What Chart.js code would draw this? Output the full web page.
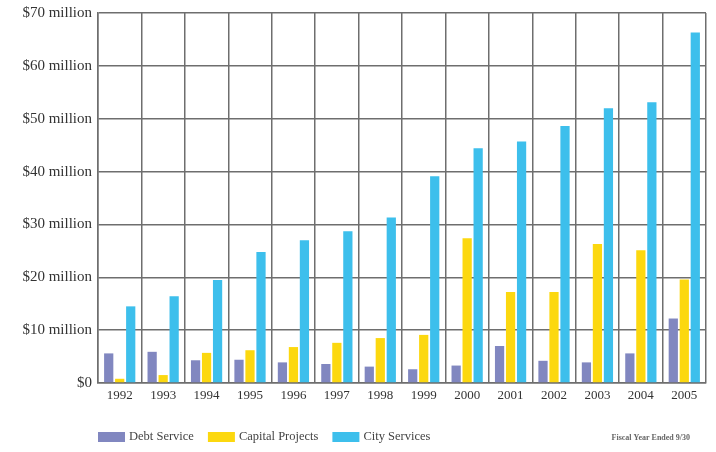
<!DOCTYPE html>
<html>
<head>
<meta charset="utf-8">
<script src="https://cdn.jsdelivr.net/npm/chart.js@4"></script>
<style>
  html, body { margin: 0; padding: 0; background: #fff; }
  #wrap { width: 716px; height: 452px; }
</style>
</head>
<body>
<div id="wrap"><canvas id="budgetchart"></canvas></div>
<script>
// fiscal years and spending, in millions of dollars
const years = ["1992", "1993", "1994", "1995", "1996", "1997", "1998",
  "1999", "2000", "2001", "2002", "2003", "2004", "2005"];
const debtService = [5.6, 5.9, 4.3, 4.4, 3.9, 3.6, 3.1, 2.6, 3.3, 7.0, 4.2, 3.9, 5.6, 12.2];
const capitalProjects = [0.8, 1.5, 5.7, 6.2, 6.8, 7.6, 8.5, 9.1, 27.4, 17.2, 17.2, 26.3, 25.1, 19.6];
const cityServices = [14.5, 16.4, 19.5, 24.8, 27.0, 28.7, 31.3, 39.1, 44.4, 45.7, 48.6, 52.0, 53.1, 66.3];
const yTicks = [0, 10, 20, 30, 40, 50, 60, 70];
const footNote = "Fiscal Year Ended 9/30";

const serif = "'Liberation Serif', 'DejaVu Serif', serif";

// legend + note drawn by hand so it can sit under the plot's left edge
const bottomLegend = {
  id: "bottomLegend",
  afterDraw(chart) {
    const ctx = chart.ctx;
    const area = chart.chartArea;
    let x = area.left;
    const y = 437;
    ctx.save();
    ctx.font = "12.5px " + serif;
    ctx.textBaseline = "middle";
    chart.data.datasets.forEach((ds) => {
      ctx.fillStyle = ds.backgroundColor;
      ctx.fillRect(x, y - 5, 27, 10);
      x += 31;
      ctx.fillStyle = "#444";
      ctx.textAlign = "left";
      ctx.fillText(ds.label, x, y);
      x += ctx.measureText(ds.label).width + 14;
    });
    ctx.font = "bold 8px " + serif;
    ctx.fillStyle = "#666";
    ctx.textAlign = "right";
    ctx.fillText(footNote, area.right - 16, y + 1);
    ctx.restore();
  },
};

const data = {
  labels: years,
  datasets: [
    { label: "Debt Service", data: debtService, backgroundColor: "#8187c0" },
    { label: "Capital Projects", data: capitalProjects, backgroundColor: "#fcd80f" },
    { label: "City Services", data: cityServices, backgroundColor: "#3dbfec" },
  ],
};

const config = {
  type: "bar",
  data: data,
  options: {
    responsive: true,
    maintainAspectRatio: false,
    animation: false,
    layout: { padding: { top: 13, right: 10, left: 0, bottom: 0 } },
    datasets: {
      bar: { categoryPercentage: 0.76, barPercentage: 0.84 },
    },
    plugins: {
      legend: { display: false },
      tooltip: { enabled: false },
    },
    scales: {
      x: {
        grid: { color: "#6e6e6e", lineWidth: 1.5, drawTicks: false, offset: true },
        border: { color: "#6e6e6e", width: 1.5 },
        ticks: { color: "#333", font: { family: serif, size: 13 }, padding: 5, maxRotation: 0 },
        afterFit(scale) { scale.height = 69; },
      },
      y: {
        min: 0,
        max: 70,
        afterBuildTicks(scale) { scale.ticks = yTicks.map((v) => ({ value: v })); },
        grid: { color: "#6e6e6e", lineWidth: 1.5, drawTicks: false },
        border: { color: "#6e6e6e", width: 1.5 },
        ticks: {
          color: "#333",
          font: { family: serif, size: 15 },
          padding: 6,
          callback: (v) => (v === 0 ? "$0" : "$" + v + " million"),
        },
        afterFit(scale) {
          scale.width = 98;
          scale.paddingTop = 0;
          scale.paddingBottom = 0;
        },
      },
    },
  },
  plugins: [bottomLegend],
};

new Chart(document.getElementById("budgetchart"), config);
</script>
</body>
</html>
